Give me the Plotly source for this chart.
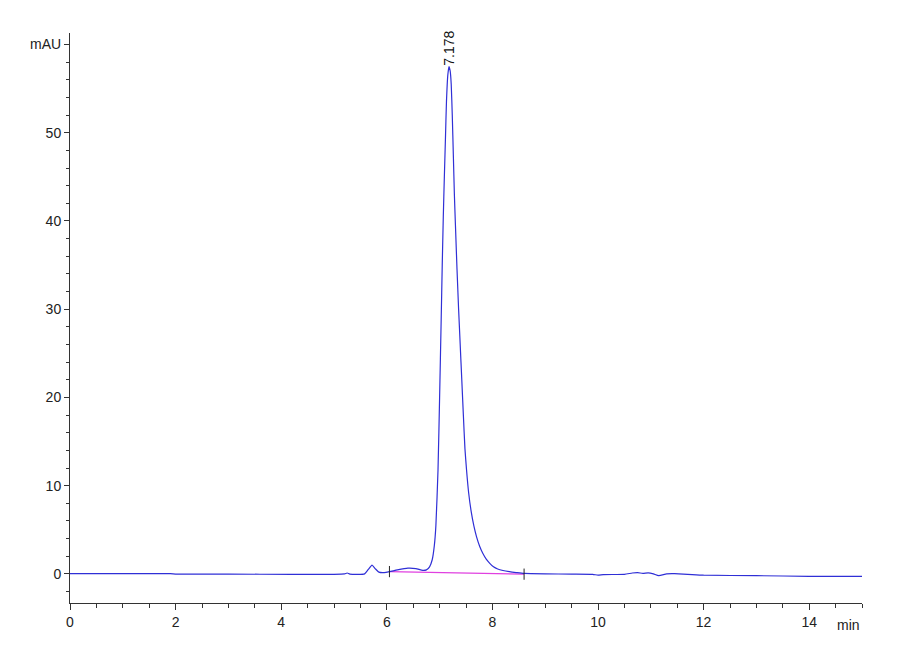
import plotly.graph_objects as go

# retention time (min) and absorbance (mAU)
time_min = [0.0, 1.9, 2.0, 3.0, 4.2, 5.0, 5.2, 5.25, 5.3, 5.58, 5.65, 5.72, 5.78,
            5.85, 5.95, 6.05, 6.2, 6.4, 6.55, 6.68, 6.75, 6.81, 6.86, 6.9, 6.93,
            6.97, 7.0, 7.03, 7.05, 7.07, 7.09, 7.11, 7.13, 7.155, 7.178, 7.2,
            7.22, 7.24, 7.26, 7.28, 7.3, 7.33, 7.36, 7.39, 7.42, 7.45, 7.48,
            7.51, 7.55, 7.6, 7.65, 7.7, 7.76, 7.82, 7.88, 7.95, 8.02, 8.1, 8.2,
            8.32, 8.45, 8.6, 9.0, 9.5, 9.9, 10.0, 10.1, 10.5, 10.65, 10.75,
            10.85, 10.95, 11.05, 11.15, 11.3, 11.45, 11.7, 12.0, 13.0, 14.0, 15.0]
signal_mau = [0.02, 0.02, -0.02, -0.03, -0.05, -0.05, 0.0, 0.1, -0.02, 0.0, 0.5,
              1.0, 0.6, 0.2, 0.15, 0.25, 0.45, 0.65, 0.6, 0.4, 0.45, 0.8, 1.6,
              3.2, 5.5, 11.8, 20.0, 28.8, 35.0, 40.5, 45.0, 49.2, 53.5, 56.5,
              57.5, 57.0, 55.5, 52.0, 47.5, 43.0, 39.5, 34.5, 30.0, 26.0, 22.0,
              18.0, 14.2, 11.8, 9.2, 7.0, 5.4, 4.2, 3.1, 2.3, 1.7, 1.2, 0.8,
              0.55, 0.38, 0.25, 0.15, 0.05, 0.0, -0.02, -0.05, -0.15, -0.08,
              -0.05, 0.1, 0.15, 0.05, 0.12, 0.0, -0.2, 0.0, 0.02, -0.05, -0.15,
              -0.2, -0.28, -0.28]

# integration baseline of the main peak
baseline_time = [6.05, 8.6]
baseline_mau = [0.26, -0.03]

peak_time = 7.178
peak_height = 57.3
peak_label = "7.178"

y_ticks = [0, 10, 20, 30, 40, 50, 60]
y_ticktext = ["0", "10", "20", "30", "40", "50", "mAU"]
x_ticks = [0, 2, 4, 6, 8, 10, 12, 14]

font_family = "Liberation Sans Narrow, Liberation Sans, Arial, sans-serif"

fig = go.Figure()

fig.add_trace(go.Scatter(
    x=baseline_time, y=baseline_mau,
    mode="lines",
    line=dict(color="#e040e0", width=1.2),
    hoverinfo="skip"
))

fig.add_trace(go.Scatter(
    x=time_min, y=signal_mau,
    mode="lines",
    line=dict(color="#2f2fd6", width=1.2, shape="spline", smoothing=0.5),
))

# small markers at the ends of the integration baseline
fig.add_trace(go.Scatter(
    x=baseline_time, y=baseline_mau,
    mode="markers",
    marker=dict(symbol="line-ns", size=8, line=dict(color="#222222", width=1)),
    hoverinfo="skip"
))

fig.add_annotation(
    x=peak_time, y=peak_height,
    text=peak_label,
    textangle=-90,
    showarrow=False,
    yanchor="bottom",
    font=dict(family=font_family, size=14, color="#111111")
)

fig.add_annotation(
    x=1.0, xref="paper", xanchor="right",
    y=0, yref="paper", yanchor="top", yshift=-12,
    text="min",
    showarrow=False,
    font=dict(family=font_family, size=14, color="#222222")
)

# page body adds an 8px offset, so margins are shifted to compensate
fig.update_layout(
    width=900, height=660,
    margin=dict(l=62, r=46, t=25, b=65),
    paper_bgcolor="white",
    plot_bgcolor="white",
    showlegend=False,
    font=dict(family=font_family, size=14, color="#222222"),
    xaxis=dict(
        range=[0, 15],
        tickvals=x_ticks,
        ticks="outside", ticklen=6, tickcolor="#333333",
        minor=dict(dtick=0.5, ticks="outside", ticklen=4, tickcolor="#333333"),
        showline=True, linecolor="#333333", linewidth=1,
        showgrid=False, zeroline=False,
    ),
    yaxis=dict(
        range=[-3.3, 61.3],
        tickvals=y_ticks, ticktext=y_ticktext,
        ticks="outside", ticklen=5, tickcolor="#333333",
        minor=dict(dtick=2, ticks="outside", ticklen=3, tickcolor="#333333"),
        showline=True, linecolor="#333333", linewidth=1,
        showgrid=False, zeroline=False,
    ),
)

fig.write_html("out.html")
